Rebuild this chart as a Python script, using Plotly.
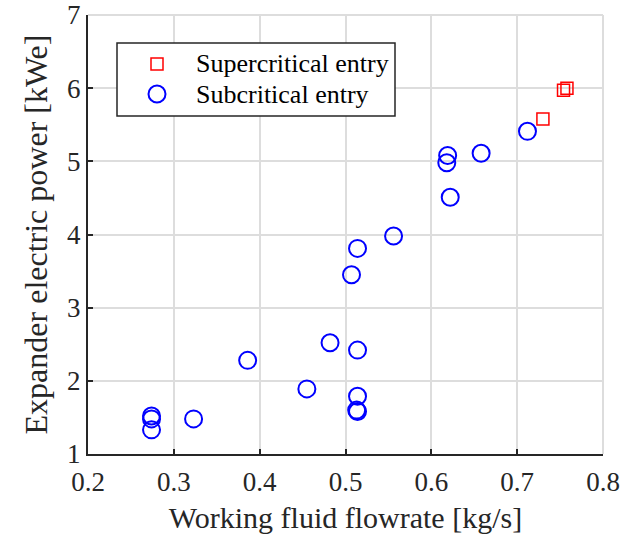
import plotly.graph_objects as go

# Data
super_x = [0.730, 0.754, 0.758]
super_y = [5.58, 5.97, 6.00]

sub_x = [0.712, 0.619, 0.618, 0.658, 0.622, 0.556, 0.514, 0.507,
         0.482, 0.514, 0.386, 0.455, 0.514, 0.513, 0.514, 0.323,
         0.274, 0.274, 0.274]
sub_y = [5.41, 5.08, 4.98, 5.11, 4.51, 3.98, 3.81, 3.45,
         2.52, 2.42, 2.28, 1.89, 1.79, 1.60, 1.58, 1.48,
         1.52, 1.48, 1.33]

x_ticks = [0.2, 0.3, 0.4, 0.5, 0.6, 0.7, 0.8]
y_ticks = [1, 2, 3, 4, 5, 6, 7]

series_names = ["Supercritical entry", "Subcritical entry"]

FONT = "Liberation Serif"
INK = "#262626"
W, H = 627, 540
ML, MR, MT, MB = 88, 24, 15, 86
PW, PH = W - ML - MR, H - MT - MB


def px_x(p):
    return (p - ML) / PW


def px_y(p):
    return (H - MB - p) / PH


fig = go.Figure()
fig.add_trace(go.Scatter(
    x=super_x, y=super_y, mode="markers", name=series_names[0], showlegend=False,
    marker=dict(symbol="square-open", size=12, color="red", line=dict(width=1.5, color="red")),
))
fig.add_trace(go.Scatter(
    x=sub_x, y=sub_y, mode="markers", name=series_names[1], showlegend=False,
    marker=dict(symbol="circle-open", size=17, color="blue", line=dict(width=2, color="blue")),
))

shapes = [
    # light gray box on top/right (MATLAB-style)
    dict(type="line", xref="paper", yref="paper", x0=0, x1=1, y0=1, y1=1,
         line=dict(color="#dddddd", width=2), layer="below"),
    dict(type="line", xref="paper", yref="paper", x0=1, x1=1, y0=0, y1=1,
         line=dict(color="#dddddd", width=2), layer="below"),
    # legend box
    dict(type="rect", xref="paper", yref="paper",
         x0=px_x(117), x1=px_x(395), y0=px_y(116), y1=px_y(43),
         line=dict(color=INK, width=1.5), fillcolor="white", layer="above"),
    # legend symbols
    dict(type="rect", xref="paper", yref="paper",
         x0=px_x(157 - 6), x1=px_x(157 + 6), y0=px_y(64 + 6), y1=px_y(64 - 6),
         line=dict(color="red", width=1.5), layer="above"),
    dict(type="circle", xref="paper", yref="paper",
         x0=px_x(157 - 8.5), x1=px_x(157 + 8.5), y0=px_y(94 + 8.5), y1=px_y(94 - 8.5),
         line=dict(color="blue", width=2), layer="above"),
]

annotations = [
    dict(text=series_names[0], xref="paper", yref="paper", x=px_x(194), y=px_y(63),
         xanchor="left", yanchor="middle", showarrow=False,
         font=dict(family=FONT, size=26, color="black")),
    dict(text=series_names[1], xref="paper", yref="paper", x=px_x(194), y=px_y(94),
         xanchor="left", yanchor="middle", showarrow=False,
         font=dict(family=FONT, size=26, color="black")),
]

fig.update_layout(
    width=W, height=H,
    margin=dict(l=ML, r=MR, t=MT, b=MB),
    paper_bgcolor="white", plot_bgcolor="white",
    font=dict(family=FONT, color=INK),
    showlegend=False,
    shapes=shapes,
    annotations=annotations,
    xaxis=dict(
        range=[0.2, 0.8], tickvals=x_ticks, ticktext=[f"{v:.1f}" for v in x_ticks],
        showgrid=True, gridcolor="#dddddd", gridwidth=2,
        showline=True, linecolor=INK, linewidth=2, mirror=False,
        ticks="inside", ticklen=5, tickwidth=2, tickcolor=INK,
        ticklabelstandoff=3,
        tickfont=dict(family=FONT, size=27, color=INK),
        title=dict(text="Working fluid flowrate [kg/s]", font=dict(family=FONT, size=30, color=INK), standoff=11),
        zeroline=False, automargin=False,
    ),
    yaxis=dict(
        range=[1, 7], tickvals=y_ticks,
        showgrid=True, gridcolor="#dddddd", gridwidth=2,
        showline=True, linecolor=INK, linewidth=2, mirror=False,
        ticks="inside", ticklen=5, tickwidth=2, tickcolor=INK,
        tickfont=dict(family=FONT, size=27, color=INK),
        title=dict(text="Expander electric power [kWe]", font=dict(family=FONT, size=32, color=INK), standoff=10),
        zeroline=False, automargin=False,
    ),
)

fig.write_html("out.html")
